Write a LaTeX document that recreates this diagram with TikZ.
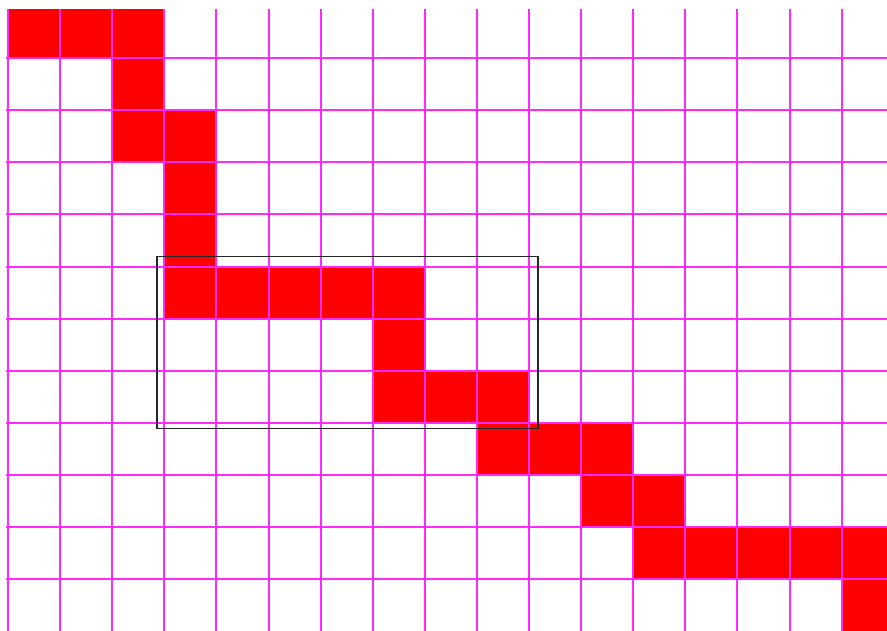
\documentclass[tikz,border=0pt]{standalone}
\definecolor{gridmag}{RGB}{255,40,255}
\begin{document}
\begin{tikzpicture}[x=1pt,y=-1pt,
  cell/.style={fill=red},
  gridline/.style={draw=gridmag,line width=2pt},
  frame/.style={draw=black!85,line width=1.2pt}]
\useasboundingbox (0,0) rectangle (887,630);
\def\s{52.1}
\begin{scope}
\clip (6,9) rectangle (887,630);
% red cells (col,row)
\foreach \c/\r in {0/0,1/0,2/0,2/1,2/2,3/2,3/3,3/4,3/5,4/5,5/5,6/5,7/5,7/6,7/7,8/7,9/7,9/8,10/8,11/8,11/9,12/9,12/10,13/10,14/10,15/10,16/10,16/11}
  \fill[cell] ({8+\c*\s},{6+\r*\s}) rectangle ({8+(\c+1)*\s},{6+(\r+1)*\s});
% grid
\foreach \i in {0,...,16}
  \draw[gridline] ({8+\i*\s},0) -- ({8+\i*\s},640);
\foreach \j in {1,...,11}
  \draw[gridline] (0,{6+\j*\s}) -- (900,{6+\j*\s});
\end{scope}
% frame
\draw[frame] (157,256.5) rectangle (538,428.5);
\end{tikzpicture}
\end{document}
